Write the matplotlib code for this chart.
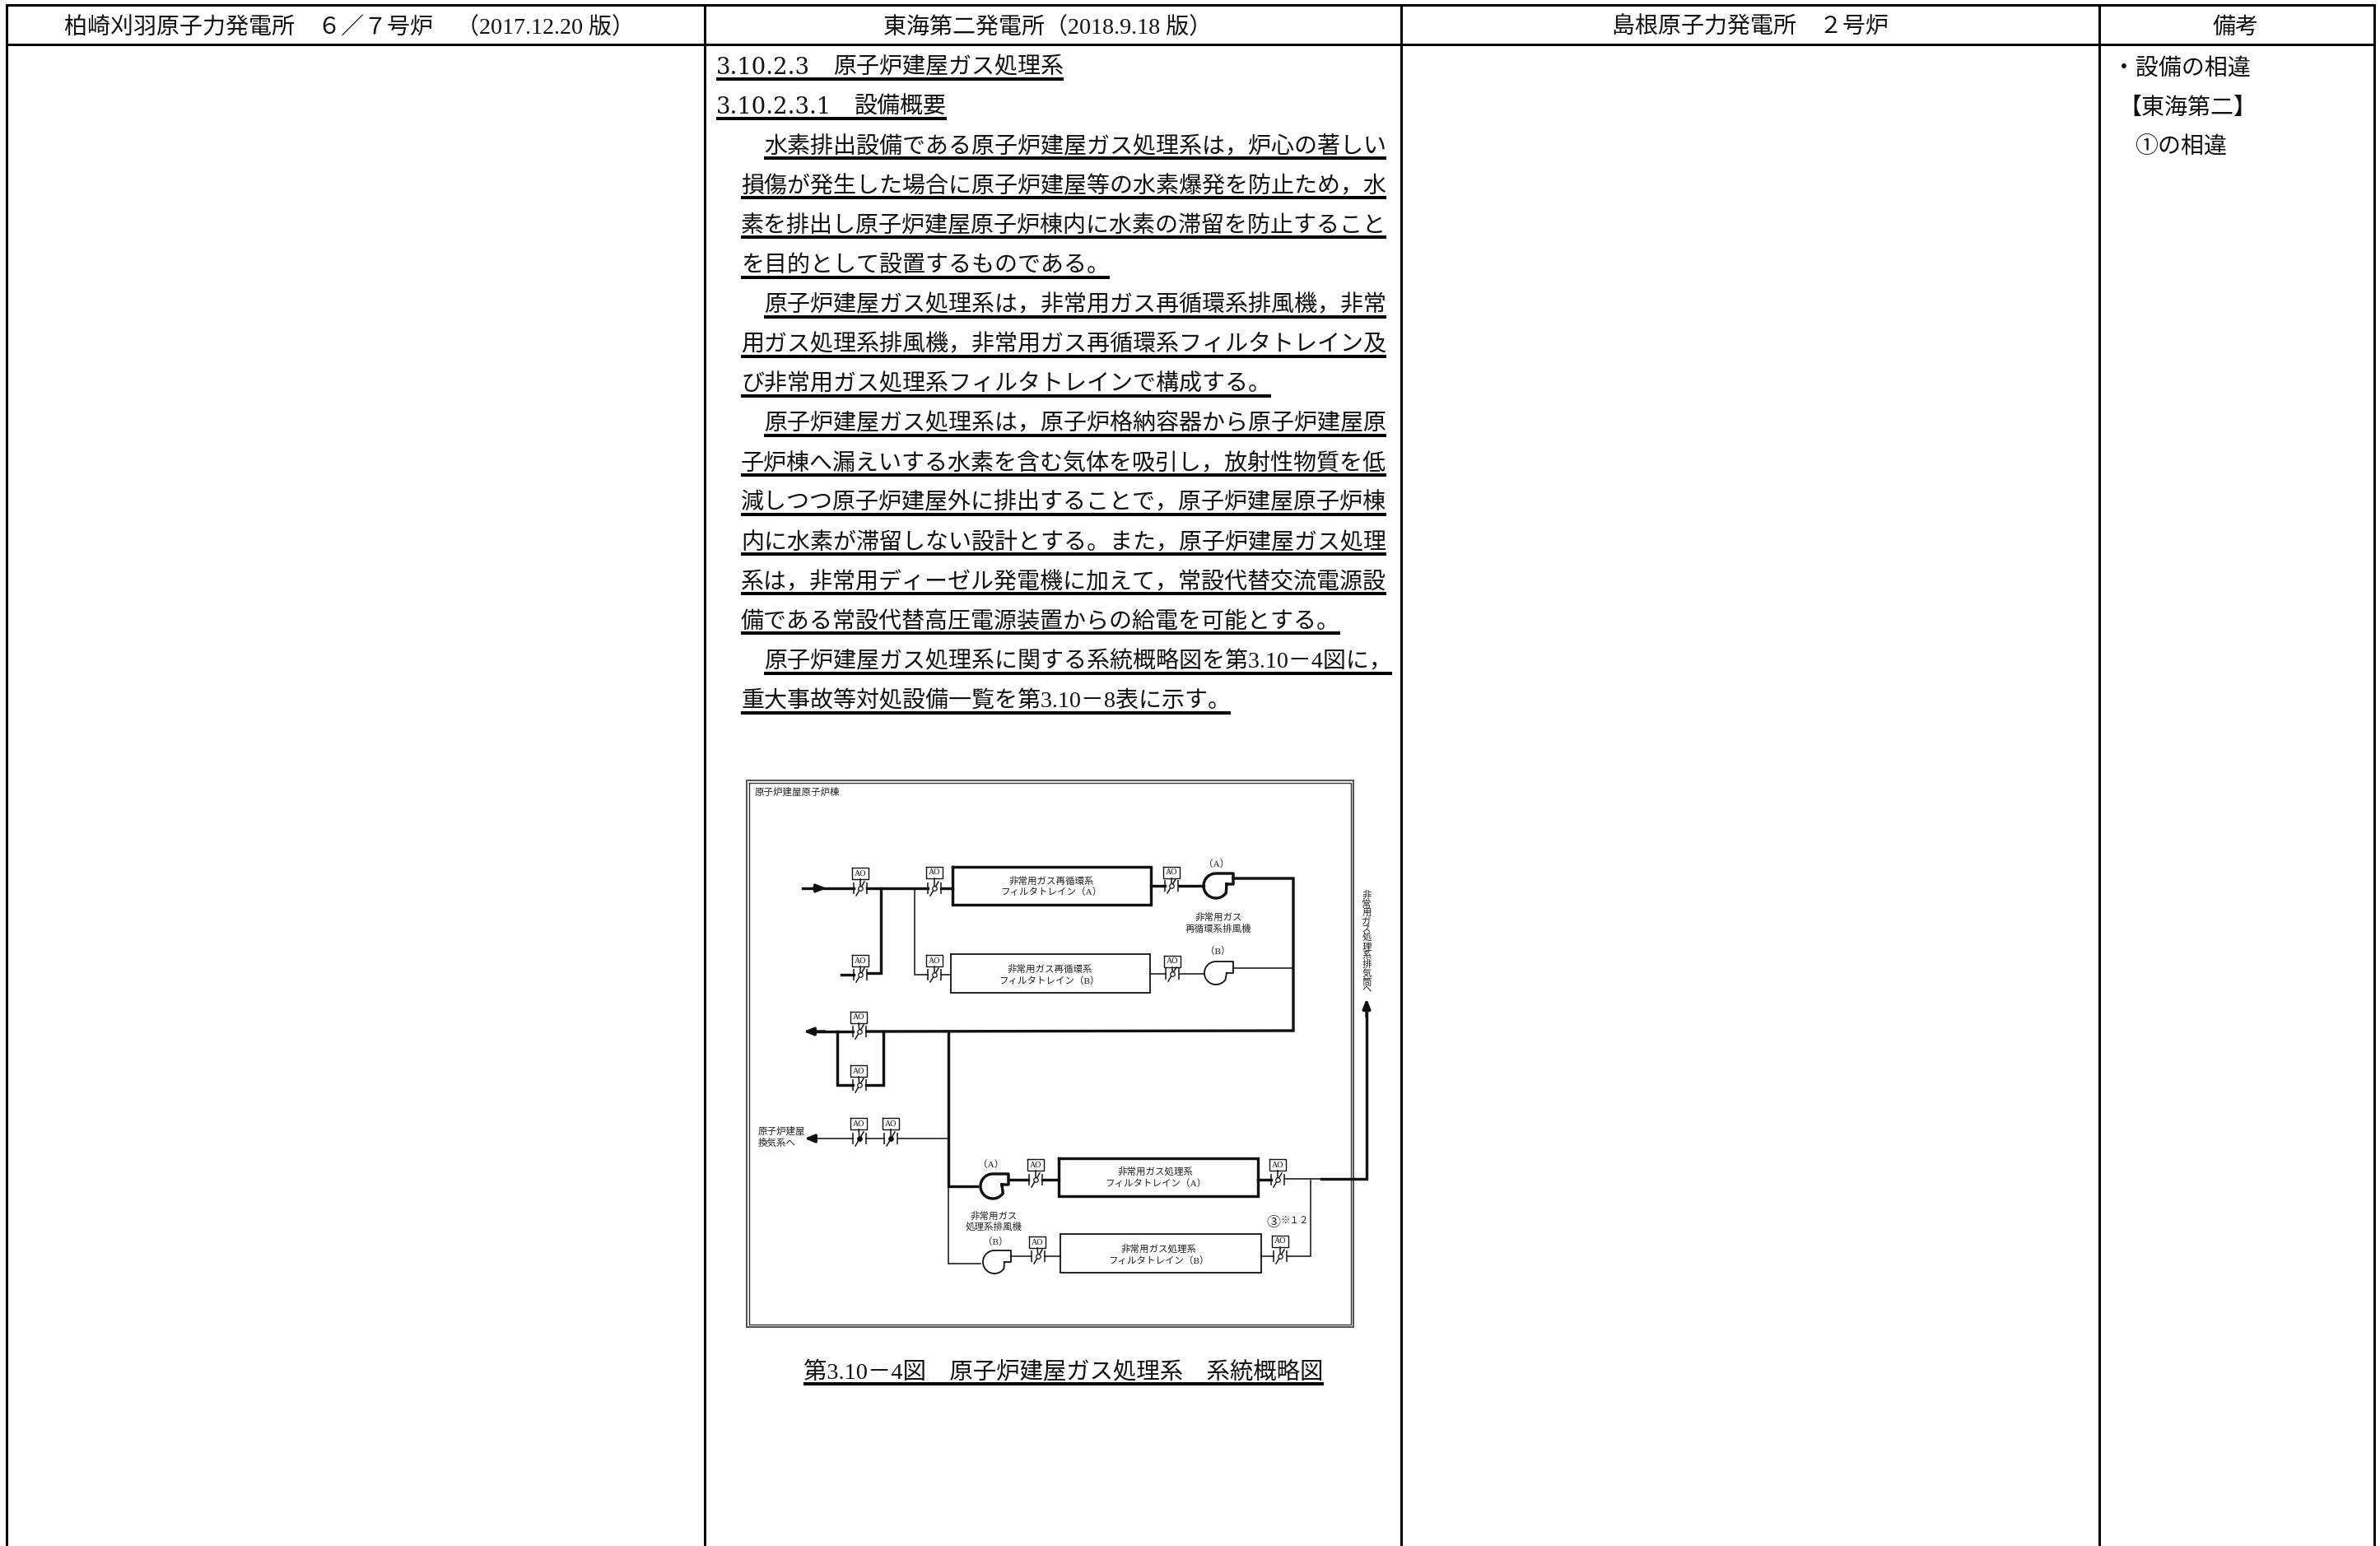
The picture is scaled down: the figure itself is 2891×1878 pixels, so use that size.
import numpy as np
import matplotlib
matplotlib.use("Agg")
import matplotlib.pyplot as plt

plt.rcParams['font.family'] = ['Liberation Serif', 'Noto Sans CJK JP', 'DejaVu Sans']

# table text
headers = ["柏崎刈羽原子力発電所　６／７号炉　（2017.12.20 版）",
           "東海第二発電所（2018.9.18 版）",
           "島根原子力発電所　２号炉",
           "備考"]
header_x = [425, 1273, 2126, 2716]
col_lines = [8, 856, 1702, 2550, 2884]

section_nums = ["3.10.2.3", "3.10.2.3.1"]
section_titles = ["原子炉建屋ガス処理系", "設備概要"]
section_title_x = [1012, 1038]

body = [
    "　水素排出設備である原子炉建屋ガス処理系は，炉心の著しい",
    "損傷が発生した場合に原子炉建屋等の水素爆発を防止ため，水",
    "素を排出し原子炉建屋原子炉棟内に水素の滞留を防止すること",
    "を目的として設置するものである。",
    "　原子炉建屋ガス処理系は，非常用ガス再循環系排風機，非常",
    "用ガス処理系排風機，非常用ガス再循環系フィルタトレイン及",
    "び非常用ガス処理系フィルタトレインで構成する。",
    "　原子炉建屋ガス処理系は，原子炉格納容器から原子炉建屋原",
    "子炉棟へ漏えいする水素を含む気体を吸引し，放射性物質を低",
    "減しつつ原子炉建屋外に排出することで，原子炉建屋原子炉棟",
    "内に水素が滞留しない設計とする。また，原子炉建屋ガス処理",
    "系は，非常用ディーゼル発電機に加えて，常設代替交流電源設",
    "備である常設代替高圧電源装置からの給電を可能とする。",
    "　原子炉建屋ガス処理系に関する系統概略図を第3.10－4図に，",
    "重大事故等対処設備一覧を第3.10－8表に示す。",
]
caption = "第3.10－4図　原子炉建屋ガス処理系　系統概略図"
remarks = ["・設備の相違", "【東海第二】", "①の相違"]
remarks_x = [2566, 2573, 2593]
remarks_y = [84, 132, 180]

# diagram, pixel coordinates of the page
frame = (907, 948, 1644, 1612)
thick_runs = [
    [(975, 1079), (1037, 1079)], [(1053, 1079), (1127, 1079)],
    [(1143, 1079), (1157, 1079)], [(1070, 1079), (1070, 1182), (1054, 1182)],
    [(1022, 1184), (1037, 1184)],
    [(1398, 1076), (1415, 1076)], [(1432, 1076), (1462, 1076)],
    [(1498, 1067), (1571, 1067), (1571, 1252), (1053, 1253)],
    [(1036, 1253), (990, 1253)],
    [(1017, 1253), (1017, 1318), (1036, 1318)],
    [(1073, 1253), (1073, 1318), (1052, 1318)],
    [(1152, 1253), (1152, 1441), (1187, 1441)],
    [(1225, 1433), (1249, 1433)], [(1266, 1433), (1286, 1433)],
    [(1528, 1433), (1544, 1433)],
    [(1605, 1432), (1660, 1432), (1660, 1225)],
]
thin_runs = [
    [(1111, 1079), (1111, 1184), (1127, 1184)], [(1143, 1184), (1155, 1184)],
    [(1397, 1183), (1416, 1183)], [(1433, 1183), (1462, 1183)],
    [(1498, 1176), (1571, 1176)],
    [(990, 1383), (1036, 1383)], [(1052, 1383), (1074, 1383)],
    [(1091, 1383), (1152, 1383)],
    [(1152, 1441), (1152, 1535), (1191, 1535)],
    [(1228, 1526), (1253, 1526)], [(1269, 1526), (1288, 1526)],
    [(1532, 1526), (1547, 1526)], [(1564, 1526), (1592, 1526), (1592, 1432)],
    [(1561, 1432), (1605, 1432)],
]
filters_bold = [(1157, 1053, 1398, 1099), (1286, 1407, 1528, 1453)]
filters_thin = [(1155, 1159, 1397, 1206), (1288, 1499, 1532, 1546)]
# valve centre x, y, then AO box centre x, top y, and filled flag
valves = [
    (1045, 1079, 1045, 1054, False), (1135, 1079, 1135, 1053, False),
    (1045, 1184, 1045, 1160, False), (1135, 1184, 1135, 1160, False),
    (1423, 1076, 1423, 1053, False), (1424, 1183, 1424, 1161, False),
    (1044, 1253, 1043, 1229, False), (1044, 1318, 1043, 1294, False),
    (1044, 1383, 1043, 1358, True), (1082, 1383, 1082, 1358, True),
    (1258, 1433, 1258, 1408, False), (1261, 1526, 1260, 1502, False),
    (1552, 1433, 1552, 1408, False), (1555, 1526, 1555, 1501, False),
]
# centre x, y, radius, outlet x, notch y, bold
fans = [(1477, 1076, 15, 1498, 1074, True), (1477, 1182, 14, 1498, 1182, False),
        (1206, 1441, 15, 1225, 1439, True), (1208, 1533, 14, 1228, 1533, False)]
arrows = [((988, 1079), (1004, 1079)), ((1002, 1253), (976, 1253)),
          ((990, 1383), (977, 1383)), ((1660, 1235), (1660, 1213))]
labels = [
    ("原子炉建屋原子炉棟", 917, 962, 'left'),
    ("非常用ガス再循環系", 1277, 1070, 'center'), ("フィルタトレイン（A）", 1277, 1083, 'center'),
    ("非常用ガス再循環系", 1275, 1177, 'center'), ("フィルタトレイン（B）", 1275, 1191, 'center'),
    ("（A）", 1478, 1049, 'center'), ("非常用ガス", 1480, 1114, 'center'),
    ("再循環系排風機", 1480, 1128, 'center'), ("（B）", 1479, 1155, 'center'),
    ("原子炉建屋", 921, 1374, 'left'), ("換気系へ", 921, 1388, 'left'),
    ("（A）", 1204, 1414, 'center'), ("非常用ガス", 1207, 1477, 'center'),
    ("処理系排風機", 1207, 1490, 'center'), ("（B）", 1209, 1508, 'center'),
    ("非常用ガス処理系", 1404, 1423, 'center'), ("フィルタトレイン（A）", 1404, 1437, 'center'),
    ("非常用ガス処理系", 1408, 1517, 'center'), ("フィルタトレイン（B）", 1408, 1531, 'center'),
    ("※１２", 1573, 1483, 'center'),
]
vertical_label = "非常用ガス処理系排気筒へ"

fig = plt.figure(figsize=(28.91, 18.78), dpi=100)
ax = fig.add_axes([0, 0, 1, 1])
ax.set_xlim(0, 2891)
ax.set_ylim(1878, 0)
ax.axis('off')
PT = 0.72
MAIN = 28 * PT
SMALL = 11.5 * PT
THICK = 3.4 * PT
THIN = 1.8 * PT
INK = '#111111'
ROW = 48.1


def run(pts, lw, color=INK):
    xs, ys = zip(*pts)
    ax.plot(xs, ys, color=color, lw=lw, solid_capstyle='projecting', solid_joinstyle='miter')


def box(b, lw):
    x0, y0, x1, y1 = b
    run([(x0, y0), (x1, y0), (x1, y1), (x0, y1), (x0, y0)], lw)


def underline(x0, x1, y):
    ax.plot([x0, x1], [y, y], color='black', lw=4 * PT, solid_capstyle='butt')


# table grid
for x in col_lines:
    ax.plot([x, x], [6, 1878], color='black', lw=3 * PT, solid_capstyle='butt')
for y in [6, 54]:
    ax.plot([col_lines[0], col_lines[-1]], [y, y], color='black', lw=3 * PT, solid_capstyle='projecting')
for txt, x in zip(headers, header_x):
    ax.text(x, 34, txt, fontsize=MAIN, ha='center', va='center', color=INK)
for txt, x, y in zip(remarks, remarks_x, remarks_y):
    ax.text(x, y, txt, fontsize=MAIN, ha='left', va='center', color=INK)

# body text, the underlines follow the measured text width
fig.canvas.draw()
rend = fig.canvas.get_renderer()

for i, (num, title, tx) in enumerate(zip(section_nums, section_titles, section_title_x)):
    yc = 79.5 + i * ROW
    ax.text(870, yc + 3, num, fontsize=27.5 * PT, family='DejaVu Serif', ha='left', va='center', color=INK)
    t = ax.text(tx, yc + 3, title, fontsize=MAIN, ha='left', va='center', color=INK)
    underline(870, t.get_window_extent(rend).x1, yc + 16.5)

for i, line in enumerate(body):
    yc = 79.5 + (i + 2) * ROW
    x0 = 900
    if line.startswith("　"):
        line = line[1:]
        x0 = 928
    t = ax.text(x0, yc + 3, line, fontsize=MAIN, ha='left', va='center', color=INK)
    underline(x0, t.get_window_extent(rend).x1, yc + 16.5)

t = ax.text(1292, 1668, caption, fontsize=MAIN * 1.015, ha='center', va='center', color=INK)
ext = t.get_window_extent(rend)
underline(ext.x0, ext.x1, 1681)

# diagram
run([(frame[0], frame[1]), (frame[2], frame[1]), (frame[2], frame[3]), (frame[0], frame[3]), (frame[0], frame[1])], 2 * PT, '#555555')
run([(frame[0] + 3, frame[1] + 3), (frame[2] - 3, frame[1] + 3), (frame[2] - 3, frame[3] - 3),
     (frame[0] + 3, frame[3] - 3), (frame[0] + 3, frame[1] + 3)], 1.4 * PT, '#333333')
for pts in thin_runs:
    run(pts, THIN, '#333333')
for pts in thick_runs:
    run(pts, THICK)
for b in filters_bold:
    box(b, THICK)
for b in filters_thin:
    box(b, THIN)

for cx, cy, bx, by, filled in valves:
    lw = 1.5 * PT
    for dx in (-8, 8):
        ax.plot([cx + dx, cx + dx], [cy - 7, cy + 7], color=INK, lw=lw, solid_capstyle='butt')
    ax.plot([cx - 5, cx + 5], [cy + 9, cy - 8], color=INK, lw=lw)
    ax.plot([bx, cx], [by + 14, cy], color=INK, lw=lw)
    ax.plot([cx], [cy], 'o', ms=5 * PT * 1.1, mfc=INK if filled else 'white', mec=INK, mew=1.2 * PT)
    box((bx - 10, by, bx + 10, by + 14), 1.4 * PT)
    ax.text(bx, by + 7, "AO", fontsize=10 * PT, ha='center', va='center', color=INK)

for cx, cy, r, ox, ny, bold in fans:
    th = np.radians(np.linspace(35, 270, 60))
    xs = cx + r * np.cos(th)
    ys = cy + r * np.sin(th)
    xs = np.r_[ox - 8, xs, ox, ox, ox - 8]
    ys = np.r_[ny, ys, cy - r, ny, ny]
    ax.plot(xs, ys, color=INK, lw=THICK if bold else THIN, solid_joinstyle='round')

for a, b in arrows:
    ax.annotate('', xy=b, xytext=a,
                arrowprops=dict(arrowstyle='-|>,head_length=0.7,head_width=0.28', color=INK, lw=THICK, shrinkA=0, shrinkB=0))

for txt, x, y, ha in labels:
    ax.text(x, y, txt, fontsize=SMALL, ha=ha, va='center', color='#222222')
ax.text(1547, 1486, "③", fontsize=17 * PT, ha='center', va='center', color='#222222')
ax.text(1660, 1145, "\n".join(vertical_label), fontsize=SMALL, ha='center', va='center',
        color='#222222', linespacing=1.02)

fig.savefig("out.png", dpi=100, facecolor='white')
